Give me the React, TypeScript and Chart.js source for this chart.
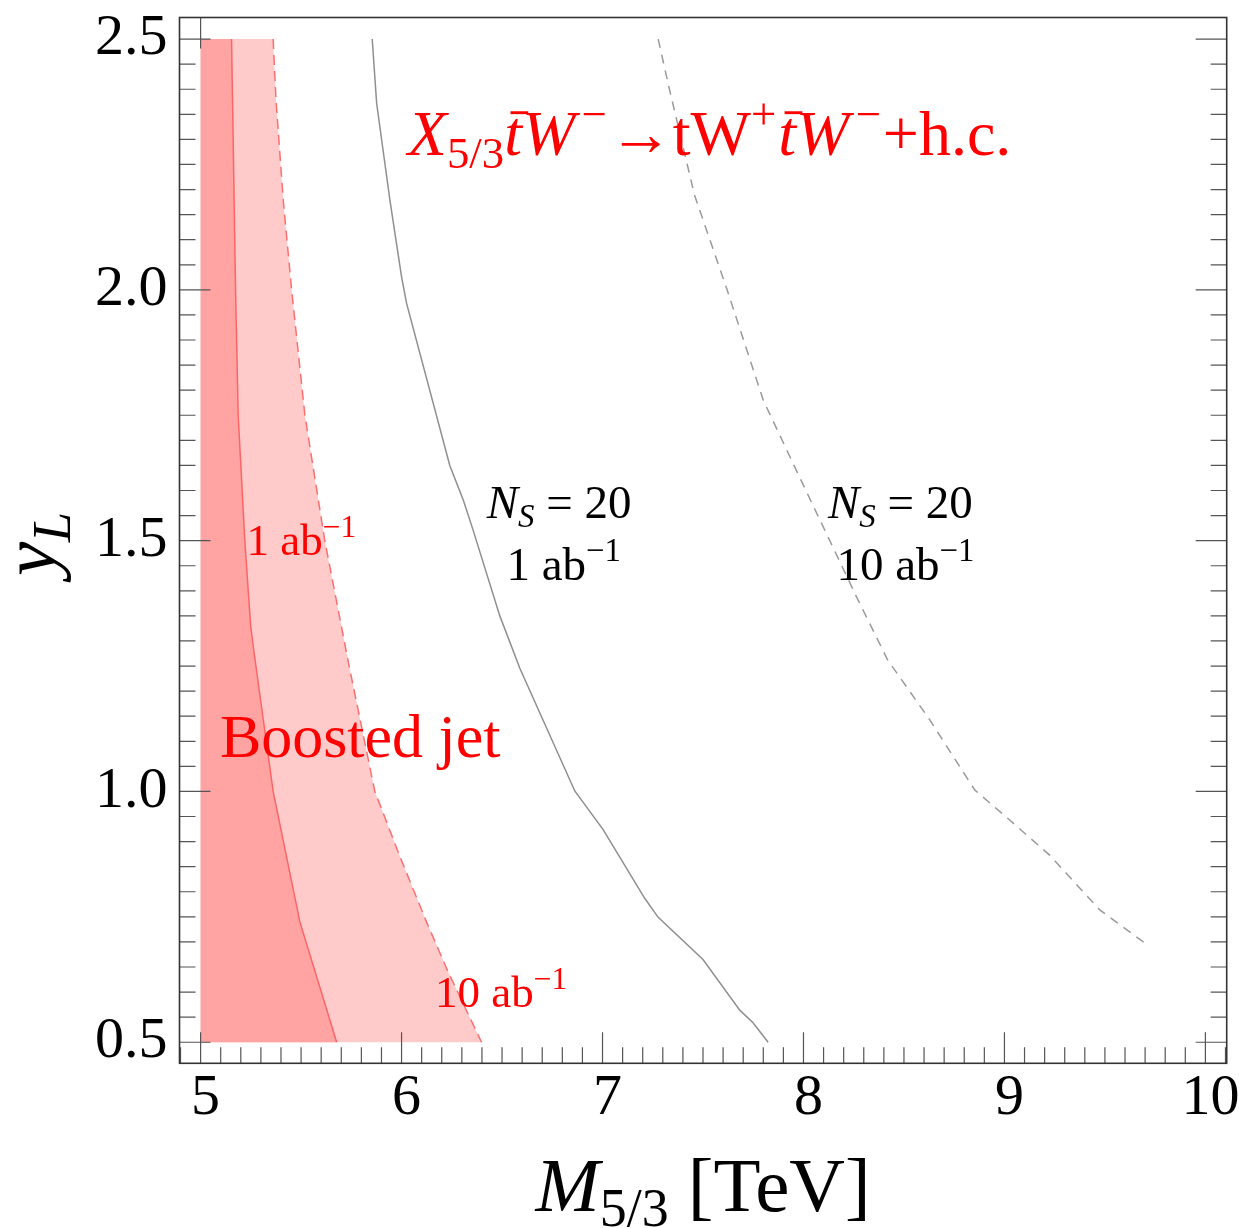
import { useEffect, useRef } from "react";
import { Chart, registerables } from "chart.js";

Chart.register(...registerables);

const SERIF = '"Liberation Serif", "Times New Roman", "DejaVu Serif", serif';

// Axis ranges and labelled ticks
const X_MIN = 4.895;
const X_MAX = 10.106;
const Y_MIN = 0.458;
const Y_MAX = 2.543;
const xTickValues = [5, 6, 7, 8, 9, 10];
const yTickValues = [0.5, 1.0, 1.5, 2.0, 2.5];

// Boosted-jet scan box (left edge and y_L range)
const scanMassMin = 5;
const scanYMin = 0.5;
const scanYMax = 2.5;

// Boosted-jet reach, 1 ab^-1 (solid red boundary)
const reach1abY = [2.5, 2.0, 1.75, 1.5, 1.33, 1.28, 1.0, 0.74, 0.5];
const reach1abM = [5.154, 5.174, 5.187, 5.22, 5.249, 5.265, 5.361, 5.494, 5.677];

// Boosted-jet reach, 10 ab^-1 (dashed red boundary)
const reach10abY = [2.5, 2.38, 2.18, 2.0, 1.75, 1.5, 1.26, 1.0, 0.87, 0.74, 0.64, 0.5];
const reach10abM = [5.361, 5.375, 5.411, 5.453, 5.519, 5.618, 5.734, 5.867, 5.992, 6.124, 6.232, 6.398];

// N_S = 20 contour, 1 ab^-1 (solid grey)
const ns1abY = [2.5, 2.372, 2.179, 2.026, 1.973, 1.65, 1.581, 1.521, 1.35, 1.245, 1.001, 0.924, 0.787, 0.749, 0.665, 0.564, 0.539, 0.5];
const ns1abM = [5.854, 5.876, 5.942, 6.0, 6.025, 6.24, 6.307, 6.356, 6.489, 6.589, 6.862, 7.003, 7.21, 7.277, 7.5, 7.683, 7.749, 7.824];

// N_S = 20 contour, 10 ab^-1 (dashed grey)
const ns10abY = [2.5, 2.405, 2.19, 2.0, 1.78, 1.654, 1.388, 1.262, 1.143, 1.003, 0.943, 0.873, 0.764, 0.698];
const ns10abM = [7.277, 7.33, 7.457, 7.62, 7.8, 7.948, 8.264, 8.419, 8.628, 8.852, 9.026, 9.225, 9.474, 9.698];

type Run = { t: string; it?: boolean; sub?: boolean; sup?: boolean; bar?: boolean };

const RED = "#ff0000";
const processRuns: Run[] = [
  { t: "X", it: true },
  { t: "5/3", sub: true },
  { t: "t", it: true, bar: true },
  { t: "W", it: true },
  { t: "\u2212", sup: true },
  { t: "\u2192" },
  { t: "t" },
  { t: "W" },
  { t: "+", sup: true },
  { t: "t", it: true, bar: true },
  { t: "W", it: true },
  { t: "\u2212", sup: true },
  { t: "+h.c." },
];
const nsRuns: Run[] = [{ t: "N", it: true }, { t: "S", it: true, sub: true }, { t: " = 20" }];
const lumi1Runs: Run[] = [{ t: "1 ab" }, { t: "\u22121", sup: true }];
const lumi10Runs: Run[] = [{ t: "10 ab" }, { t: "\u22121", sup: true }];

// Text labels placed in data coordinates (left edge, baseline)
const notes = [
  { runs: processRuns, m: 6.031, y: 2.269, size: 64, color: RED },
  { runs: lumi1Runs, m: 5.229, y: 1.471, size: 45, color: RED },
  { runs: nsRuns, m: 6.424, y: 1.545, size: 47, color: "#000" },
  { runs: lumi1Runs, m: 6.522, y: 1.422, size: 47, color: "#000" },
  { runs: nsRuns, m: 8.122, y: 1.545, size: 47, color: "#000" },
  { runs: lumi10Runs, m: 8.164, y: 1.422, size: 47, color: "#000" },
  { runs: [{ t: "Boosted jet" }], m: 5.096, y: 1.069, size: 62, color: RED },
  { runs: lumi10Runs, m: 6.166, y: 0.571, size: 45, color: RED },
];

const xTitle: Run[] = [{ t: "M", it: true }, { t: "5/3", sub: true }, { t: " [TeV]" }];
const yTitle: Run[] = [{ t: "y", it: true }, { t: "L", it: true, sub: true }];

const SCRIPT = 0.7;
function fontFor(r: Run, size: number) {
  const s = r.sub || r.sup ? size * SCRIPT : size;
  return `${r.it ? "italic " : ""}${s}px ${SERIF}`;
}
// extra room after an italic glyph when a superscript follows it
function gapBefore(runs: Run[], i: number, size: number) {
  if (i === 0) return 0;
  const prev = runs[i - 1];
  const cur = runs[i];
  if (prev.it && cur.sup) return size * 0.1;
  if (prev.sup && !cur.sup) return size * 0.03;
  return 0;
}
function runsWidth(ctx: CanvasRenderingContext2D, runs: Run[], size: number) {
  let w = 0;
  runs.forEach((r, i) => {
    ctx.font = fontFor(r, size);
    w += gapBefore(runs, i, size) + ctx.measureText(r.t).width;
  });
  return w;
}
function drawRuns(ctx: CanvasRenderingContext2D, runs: Run[], x: number, y: number, size: number, color: string) {
  ctx.fillStyle = color;
  ctx.strokeStyle = color;
  ctx.textBaseline = "alphabetic";
  ctx.textAlign = "left";
  let cx = x;
  runs.forEach((r, i) => {
    cx += gapBefore(runs, i, size);
    ctx.font = fontFor(r, size);
    const w = ctx.measureText(r.t).width;
    const dy = r.sub ? size * 0.2 : r.sup ? -size * 0.4 : 0;
    ctx.fillText(r.t, cx, y + dy);
    if (r.bar) {
      ctx.lineWidth = size * 0.045;
      ctx.beginPath();
      const by = y - size * 0.66;
      ctx.moveTo(cx + size * 0.1, by);
      ctx.lineTo(cx + w + size * 0.1, by);
      ctx.stroke();
    }
    cx += w;
  });
}

const pts = (ms: number[], ys: number[]) => ms.map((m, i) => ({ x: m, y: ys[i] }));

// Frame, inward ticks, labels and axis titles
const decorations = {
  id: "decorations",
  afterDatasetsDraw(chart: any) {
    const ctx: CanvasRenderingContext2D = chart.ctx;
    const { left, right, top, bottom } = chart.chartArea;
    const xs = chart.scales.x;
    const ys = chart.scales.y;
    const MAJOR = 31;
    const MINOR = 16;
    ctx.save();
    ctx.strokeStyle = "#555";
    ctx.lineWidth = 1.2;
    ctx.beginPath();
    for (let k = Math.ceil(X_MIN * 10); k <= Math.floor(X_MAX * 10); k++) {
      const px = xs.getPixelForValue(k / 10);
      const len = k % 10 === 0 ? MAJOR : MINOR;
      ctx.moveTo(px, bottom);
      ctx.lineTo(px, bottom - len);
    }
    const topTick = xs.getPixelForValue(xTickValues[0]);
    ctx.moveTo(topTick, top);
    ctx.lineTo(topTick, top + MAJOR);
    for (let k = Math.ceil(Y_MIN * 20); k <= Math.floor(Y_MAX * 20); k++) {
      const py = ys.getPixelForValue(k / 20);
      const len = k % 10 === 0 ? MAJOR : MINOR;
      ctx.moveTo(left, py);
      ctx.lineTo(left + len, py);
      ctx.moveTo(right, py);
      ctx.lineTo(right - len, py);
    }
    ctx.stroke();

    ctx.strokeStyle = "#333";
    ctx.lineWidth = 1.6;
    ctx.strokeRect(left, top, right - left, bottom - top);

    for (const n of notes) {
      drawRuns(ctx, n.runs, xs.getPixelForValue(n.m), ys.getPixelForValue(n.y), n.size, n.color);
    }

    const tSize = 77;
    const wx = runsWidth(ctx, xTitle, tSize);
    drawRuns(ctx, xTitle, (left + right) / 2 - wx / 2, 1211, tSize, "#000");

    const wy = runsWidth(ctx, yTitle, tSize);
    ctx.save();
    ctx.translate(55, 544);
    ctx.rotate(-Math.PI / 2);
    drawRuns(ctx, yTitle, -wy / 2, 0, tSize, "#000");
    ctx.restore();
    ctx.restore();
  },
};

export default function App() {
  const ref = useRef<HTMLCanvasElement>(null);

  useEffect(() => {
    const canvas = ref.current;
    if (!canvas) return;

    const lightRegion = [
      { x: scanMassMin, y: scanYMin },
      { x: scanMassMin, y: scanYMax },
      ...pts(reach10abM, reach10abY),
    ];
    const darkRegion = [
      { x: scanMassMin, y: scanYMin },
      { x: scanMassMin, y: scanYMax },
      ...pts(reach1abM, reach1abY),
    ];

    const lineBase = { showLine: true, pointRadius: 0, pointHoverRadius: 0, tension: 0, fill: false };

    const chart = new Chart(canvas, {
      type: "scatter",
      data: {
        datasets: [
          { ...lineBase, label: "N_S=20, 10 ab-1", data: pts(ns10abM, ns10abY), borderColor: "#9a9a9a", borderWidth: 1.5, borderDash: [9, 7] },
          { ...lineBase, label: "N_S=20, 1 ab-1", data: pts(ns1abM, ns1abY), borderColor: "#8f8f8f", borderWidth: 1.5 },
          { ...lineBase, label: "reach 10 ab-1", data: pts(reach10abM, reach10abY), borderColor: "#ff6e6e", borderWidth: 1.5, borderDash: [10, 6] },
          { ...lineBase, label: "reach 1 ab-1", data: pts(reach1abM, reach1abY), borderColor: "#ff6464", borderWidth: 1.5 },
          { ...lineBase, label: "region 1 ab-1", data: darkRegion, borderWidth: 0, borderColor: "rgba(0,0,0,0)", backgroundColor: "#ffa3a3", fill: "shape" },
          { ...lineBase, label: "region 10 ab-1", data: lightRegion, borderWidth: 0, borderColor: "rgba(0,0,0,0)", backgroundColor: "#ffcaca", fill: "shape" },
        ],
      },
      options: {
        responsive: false,
        animation: false,
        devicePixelRatio: 1,
        events: [],
        layout: { padding: { left: 0, top: 17.5, right: 12.3, bottom: 0 } },
        plugins: { legend: { display: false }, tooltip: { enabled: false } },
        scales: {
          x: {
            type: "linear",
            min: X_MIN,
            max: X_MAX,
            grid: { display: false, drawTicks: false },
            border: { display: false },
            afterBuildTicks: (s: any) => {
              s.ticks = xTickValues.map((v) => ({ value: v }));
            },
            afterFit: (s: any) => {
              s.height = 164.7;
              s.paddingLeft = 0;
              s.paddingRight = 0;
            },
            ticks: {
              autoSkip: false,
              maxRotation: 0,
              padding: 1,
              labelOffset: 5,
              color: "#000",
              font: { family: SERIF, size: 58 },
              callback: (v: any) => String(v),
            },
          },
          y: {
            type: "linear",
            min: Y_MIN,
            max: Y_MAX,
            grid: { display: false, drawTicks: false },
            border: { display: false },
            afterBuildTicks: (s: any) => {
              s.ticks = yTickValues.map((v) => ({ value: v }));
            },
            afterFit: (s: any) => {
              s.width = 179.5;
              s.paddingTop = 0;
              s.paddingBottom = 0;
            },
            ticks: {
              autoSkip: false,
              padding: 12,
              color: "#000",
              font: { family: SERIF, size: 58 },
              callback: (v: any) => Number(v).toFixed(1),
            },
          },
        },
      },
      plugins: [decorations],
    } as any);

    return () => chart.destroy();
  }, []);

  return (
    <div style={{ position: "fixed", left: 0, top: 0, width: 1239, height: 1228, background: "#fff" }}>
      <canvas ref={ref} width={1239} height={1228} style={{ display: "block" }} />
    </div>
  );
}
